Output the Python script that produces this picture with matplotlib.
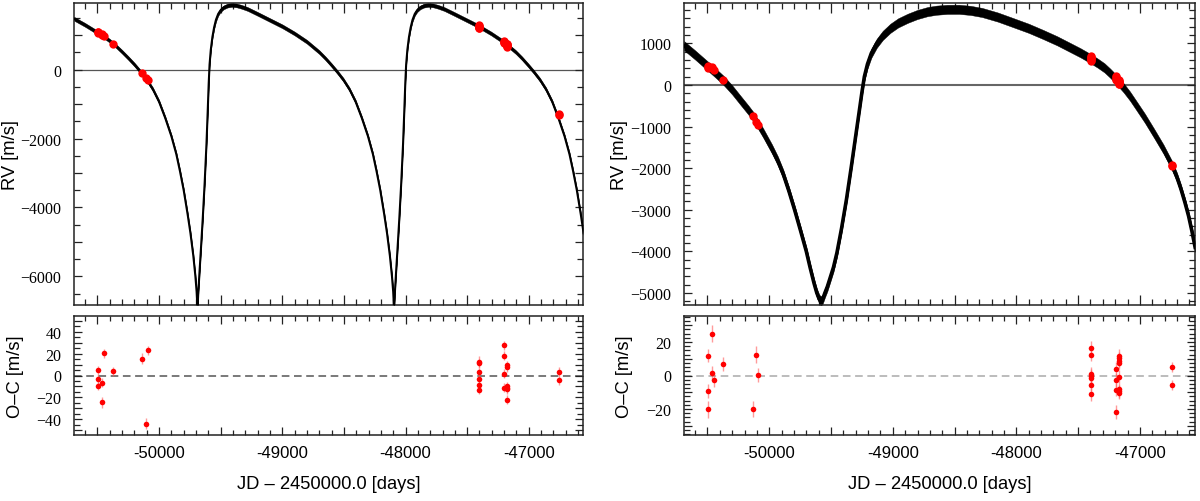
import matplotlib
matplotlib.use('Agg')
import matplotlib.pyplot as plt
from matplotlib.ticker import MultipleLocator, FuncFormatter
import numpy as np

# ---- left fit: model curve (centre of the posterior band) ----
curve_l_day = [-50690, -50600, -50500, -50450, -50400, -50350, -50300, -50250, -50200, -50150,
               -50100, -50050, -50000, -49950, -49900, -49860, -49830, -49800, -49768, -49745,
               -49722, -49705, -49695, -49688, -49682, -49672, -49660, -49645, -49630, -49615,
               -49605, -49597, -49590, -49580, -49567, -49553, -49538, -49520, -49500, -49475,
               -49445, -49410, -49370, -49330, -49280, -49200, -49100, -49000, -48900, -48800,
               -48700, -48650, -48600, -48555, -48505, -48455, -48405, -48355, -48305, -48265,
               -48235, -48205, -48173, -48150, -48127, -48110, -48100, -48093, -48087, -48077,
               -48065, -48050, -48035, -48020, -48010, -48002, -47995, -47985, -47972, -47958,
               -47943, -47925, -47905, -47880, -47850, -47815, -47775, -47735, -47685, -47605,
               -47505, -47405, -47305, -47205, -47105, -47055, -47005, -46960, -46910, -46860,
               -46810, -46760, -46710, -46670, -46640, -46610, -46578, -46555]
curve_l_rv = [1480, 1300, 1080, 970, 840, 690, 520, 340, 150, -60,
              -290, -570, -930, -1400, -1930, -2450, -2950, -3500, -4200, -4750,
              -5400, -6000, -6450, -6950, -6500, -5900, -5200, -4300, -3300, -2150,
              -1200, -400, 150, 580, 950, 1230, 1450, 1620, 1730, 1810,
              1860, 1880, 1865, 1825, 1760, 1620, 1440, 1260, 1050, 810,
              510, 330, 130, -60, -290, -570, -930, -1400, -1930, -2450,
              -2950, -3500, -4200, -4750, -5400, -6000, -6450, -6950, -6500, -5900,
              -5200, -4300, -3300, -2150, -1200, -400, 150, 580, 950, 1230,
              1450, 1620, 1730, 1810, 1860, 1880, 1865, 1825, 1760, 1620,
              1440, 1260, 1050, 810, 510, 330, 130, -60, -290, -570,
              -930, -1400, -1930, -2450, -2950, -3500, -4200, -4750]
band_l = 55  # half spread of the model band [m/s]

# ---- right fit: model curve ----
curve_r_day = [-50690, -50600, -50504, -50440, -50372, -50300, -50230, -50170, -50134, -50100,
               -50050, -49978, -49930, -49886, -49840, -49793, -49745, -49700, -49670, -49638,
               -49615, -49595, -49582, -49568, -49550, -49530, -49514, -49480, -49452, -49415,
               -49375, -49335, -49298, -49270, -49250, -49230, -49205, -49174, -49130, -49081,
               -49020, -48957, -48880, -48803, -48720, -48648, -48560, -48462, -48370, -48277,
               -48150, -48029, -47900, -47782, -47670, -47565, -47480, -47404, -47340, -47287,
               -47240, -47194, -47132, -47080, -47039, -46960, -46884, -46810, -46739, -46700,
               -46668, -46635, -46606, -46580, -46553]
curve_r_rv = [944, 720, 470, 300, 115, -120, -380, -600, -740, -900,
              -1150, -1540, -1830, -2150, -2560, -3020, -3520, -4000, -4380, -4760,
              -5000, -5150, -5190, -5150, -5000, -4850, -4700, -4380, -4030, -3450,
              -2750, -1950, -1180, -600, -180, 200, 500, 760, 1000, 1190,
              1360, 1490, 1600, 1690, 1760, 1795, 1815, 1816, 1790, 1740,
              1630, 1500, 1360, 1210, 1060, 900, 770, 640, 520, 410,
              280, 140, -70, -270, -450, -800, -1170, -1540, -1944, -2220,
              -2500, -2830, -3150, -3500, -3904]
band_r = 110

# ---- data points ----
day_l = [-50498, -50498, -50498, -50465, -50465, -50447, -50371, -50138, -50108, -50092,
         -47404, -47404, -47404, -47404, -47404, -47404,
         -47201, -47201, -47201, -47201,
         -47177, -47177, -47177, -47177, -47177, -47177,
         -46752, -46752]
rv_l = [1090, 1080, 1070, 1030, 1020, 990, 745, -100, -250, -300,
        1290, 1270, 1250, 1240, 1220, 1210,
        830, 810, 790, 770,
        760, 740, 720, 700, 680, 660,
        -1295, -1310]
oc_l = [4.6, -3.4, -9.5, -6.7, -24.7, 20.2, 4.0, 15.3, -44.0, 22.9,
        12.5, 11.0, 3.1, -2.8, -8.9, -13.2,
        27.8, 18.1, 1.5, -11.0,
        9.5, 7.6, -10.0, -11.5, -12.5, -22.3,
        3.4, -4.3]
err_l = [4, 4, 4, 4, 5, 4, 4, 5, 5, 4,
         5, 4, 4, 4, 4, 4,
         4, 4, 4, 4,
         4, 4, 4, 4, 4, 4,
         4, 4]

day_r = [-50496, -50496, -50496, -50466, -50463, -50445, -50372, -50134, -50105, -50089,
         -47393, -47393, -47393, -47393, -47393, -47393, -47393,
         -47191, -47191, -47191, -47191,
         -47166, -47166, -47166, -47166, -47166, -47166, -47166, -47166,
         -46737, -46737]
rv_r = [450, 420, 400, 420, 400, 370, 115, -740, -900, -960,
        700, 680, 650, 640, 620, 600, 580,
        220, 180, 140, 110,
        110, 90, 80, 60, 50, 40, 30, 20,
        -1935, -1955]
oc_r = [11.9, -9.3, -20.2, 25.0, 1.6, -2.8, 6.9, -20.0, 12.5, 0.2,
        16.6, 12.5, 0.8, -0.4, -1.4, -5.5, -11.3,
        4.0, -2.8, -8.5, -21.8,
        11.7, 10.3, 8.9, 7.7, -0.6, -8.3, -9.5, -10.3,
        5.1, -5.5]
err_r = [4, 4, 5, 5, 4, 4, 4, 5, 5, 4,
         4, 4, 4, 4, 4, 4, 4,
         4, 4, 4, 4,
         4, 4, 4, 4, 4, 4, 4, 4,
         3, 3]

SANS = 'Liberation Sans'
SERIF = 'Liberation Serif'
plt.rcParams['font.family'] = SANS
plt.rcParams['axes.unicode_minus'] = True

W, H = 1200, 502
fig = plt.figure(figsize=(W / 100, H / 100), dpi=100)


def box(x0, x1, y0, y1):
    return [x0 / W, (H - y1) / H, (x1 - x0) / W, (y1 - y0) / H]


def xfmt(v, p):
    return f"{v:.0f}" if round(v) % 1000 == 0 else ""


def yfmt(step):
    def f(v, p):
        iv = int(round(v))
        if iv % step:
            return ""
        return str(iv).replace("-", "\u2212")
    return f


def style(ax, top, ymaj, ymin, ystep):
    for s in ax.spines.values():
        s.set_linewidth(1.1)
        s.set_color('#222222')
    ax.xaxis.set_major_locator(MultipleLocator(500))
    ax.xaxis.set_minor_locator(MultipleLocator(100))
    ax.yaxis.set_major_locator(MultipleLocator(ymaj))
    ax.yaxis.set_minor_locator(MultipleLocator(ymin))
    ax.yaxis.set_major_formatter(FuncFormatter(yfmt(ystep)))
    ax.tick_params(which='both', direction='in', top=True, right=True,
                   width=0.9, color='#222222')
    ax.tick_params(axis='x', which='major', length=7.5 if top else 6)
    ax.tick_params(axis='x', which='minor', length=4.5 if top else 3.5)
    ax.tick_params(axis='y', which='major', length=5.5)
    ax.tick_params(axis='y', which='minor', length=4.5)
    ax.tick_params(axis='y', labelsize=11.5, labelfontfamily=SERIF, pad=9)
    if top:
        ax.tick_params(axis='x', labelbottom=False)
    else:
        ax.xaxis.set_major_formatter(FuncFormatter(xfmt))
        ax.tick_params(axis='x', labelsize=12, labelfontfamily=SANS, pad=7)


panels = [
    dict(x0=74, x1=583, xlim=(-50690, -46560), ylim=(-6833, 1936), ymin=500, ystep=2000,
         cday=curve_l_day, crv=curve_l_rv, band=band_l, lw=1.5, zc='#555555', zlw=0.9,
         day=day_l, rv=rv_l, oc=oc_l, err=err_l, oclim=(-54.5, 54.5), ocmin=5,
         dash='#555555', labx_top=-0.108, labx_bot=-0.098),
    dict(x0=684, x1=1195, xlim=(-50690, -46554), ylim=(-5288, 1968), ymin=200, ystep=1000,
         cday=curve_r_day, crv=curve_r_rv, band=band_r, lw=2.6, zc='#666666', zlw=1.5,
         day=day_r, rv=rv_r, oc=oc_r, err=err_r, oclim=(-35.5, 35.5), ocmin=2.5,
         dash='#aaaaaa', labx_top=-0.109, labx_bot=-0.100),
]

all_axes = []
for p in panels:
    ax = fig.add_axes(box(p['x0'], p['x1'], 4, 306))
    cd = np.array(p['cday'])
    cr = np.array(p['crv'])
    ax.axhline(0, color=p['zc'], lw=p['zlw'], zorder=1)
    ax.fill_between(cd, cr - p['band'], cr + p['band'], color='black', lw=0.3,
                    edgecolor='black', zorder=2)
    ax.plot(cd, cr, color='black', lw=p['lw'], solid_joinstyle='round', zorder=3)
    ax.plot(p['day'], p['rv'], 'o', color='#ff0000', ms=6, mew=0, zorder=4)
    ax.set_xlim(*p['xlim'])
    ax.set_ylim(*p['ylim'])
    style(ax, True, 1000, p['ymin'], p['ystep'])
    ax.set_ylabel('RV [m/s]', fontsize=13.2)
    ax.yaxis.set_label_coords(p['labx_top'], 0.5)

    bx = fig.add_axes(box(p['x0'], p['x1'], 317, 436))
    bx.axhline(0, color=p['dash'], lw=1.1, ls=(0, (5, 3)), zorder=1)
    bx.errorbar(p['day'], p['oc'], yerr=p['err'], fmt='none',
                ecolor=(1.0, 0.35, 0.35, 0.6), elinewidth=1.0, zorder=2)
    bx.plot(p['day'], p['oc'], 'o', color='#ff0000', ms=4, mew=0, zorder=3)
    bx.set_xlim(*p['xlim'])
    bx.set_ylim(*p['oclim'])
    style(bx, False, 10, p['ocmin'], 20)
    bx.set_ylabel('O\u2013C [m/s]', fontsize=13.2)
    bx.yaxis.set_label_coords(p['labx_bot'], 0.5)
    bx.set_xlabel('JD \u2013 2450000.0 [days]', fontsize=13.2)
    bx.xaxis.set_label_coords(0.5, -0.34)
    all_axes += [ax, bx]

# y tick labels are set in a serif face in the original
fig.canvas.draw()
for a in all_axes:
    for t in a.get_yticklabels():
        t.set_fontfamily(SERIF)

fig.savefig('out.png', dpi=100)
